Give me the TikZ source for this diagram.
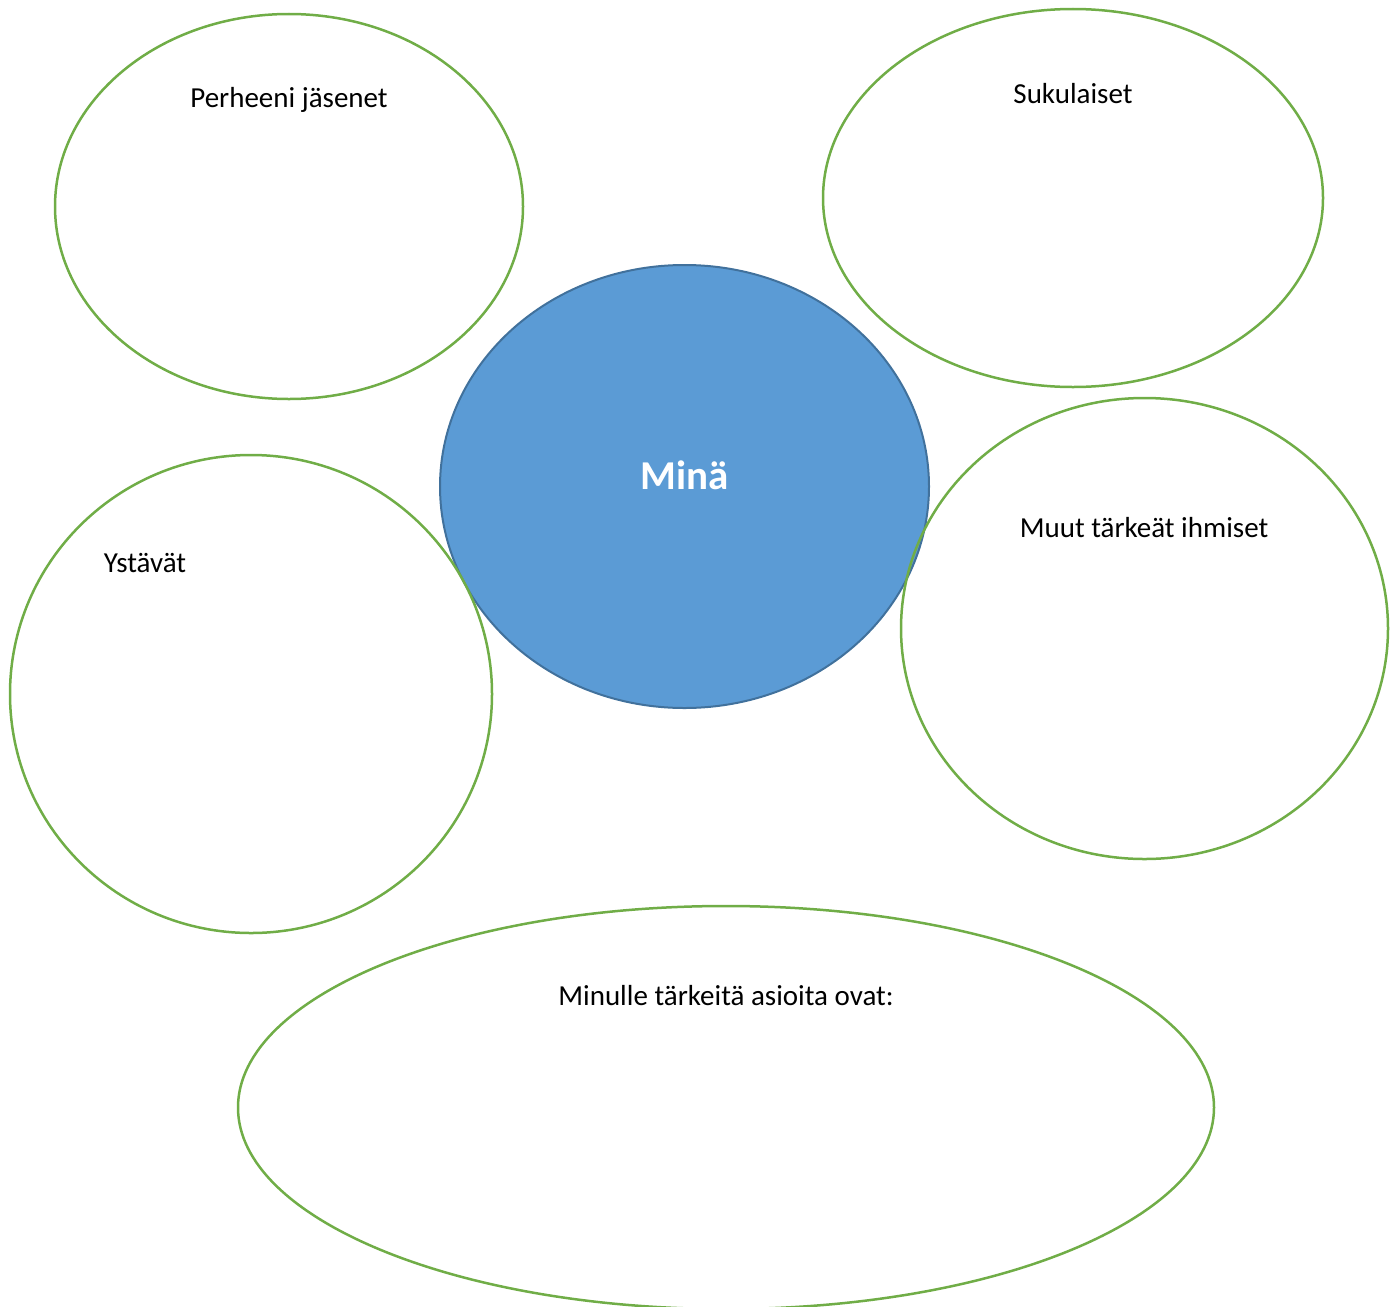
\documentclass[tikz,border=0pt]{standalone}
\usepackage{fontspec}
\setmainfont{Carlito}
\usetikzlibrary{shapes.geometric}
\definecolor{greenline}{HTML}{70AD47}
\definecolor{bluefill}{HTML}{5B9BD5}
\definecolor{blueline}{HTML}{41719C}
\tikzset{
  bubble/.style={ellipse, draw=greenline, line width=2.5pt, inner sep=0pt},
  centerbubble/.style={ellipse, draw=blueline, fill=bluefill, line width=2pt, inner sep=0pt},
  lbl/.style={font=\fontsize{29}{34}\selectfont, text=black, inner sep=0pt},
}
\begin{document}
\begin{tikzpicture}[x=1pt,y=-1pt]
\useasboundingbox (0,0) rectangle (1396,1306);
\node[centerbubble, minimum width=489pt, minimum height=443pt] (mina) at (684.5,486.5) {};
\node[font=\fontsize{41}{48}\selectfont\bfseries, text=white, inner sep=0pt] (minatext) at (685,475) {Minä};
\node[bubble, minimum width=468pt, minimum height=385pt] (perhe) at (289,206.5) {};
\node[lbl] (perhetext) at (289,100) {Perheeni jäsenet};
\node[bubble, minimum width=500pt, minimum height=378pt] (suku) at (1073,198) {};
\node[lbl] (sukutext) at (1073,94) {Sukulaiset};
\node[bubble, minimum width=482pt, minimum height=478pt] (ystavat) at (251,694) {};
\node[lbl] (ystavattext) at (145,563) {Ystävät};
\node[bubble, minimum width=487pt, minimum height=461pt] (muut) at (1144.5,628.5) {};
\node[lbl] (muuttext) at (1144,528) {Muut tärkeät ihmiset};
\node[bubble, minimum width=976pt, minimum height=403pt] (asiat) at (726,1107.5) {};
\node[lbl] (asiattext) at (726,996) {Minulle tärkeitä asioita ovat:};
\end{tikzpicture}
\end{document}
